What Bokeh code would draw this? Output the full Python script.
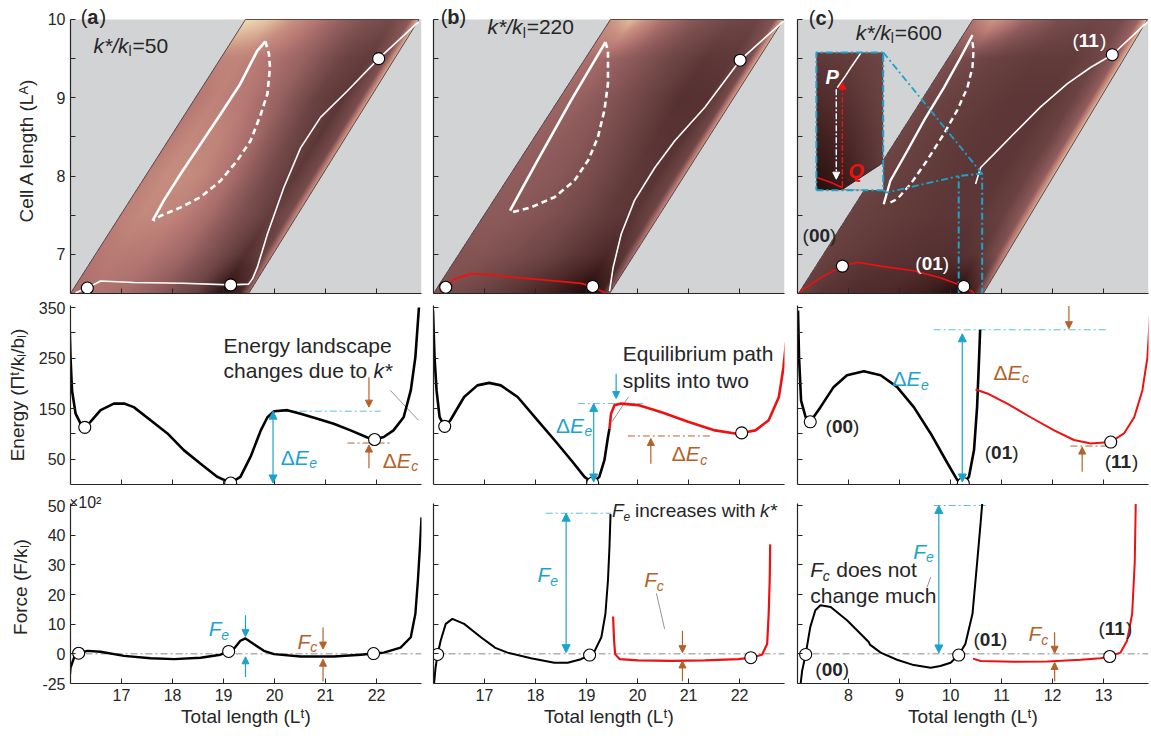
import numpy as np
from bokeh.plotting import figure
from bokeh.layouts import row, column
from bokeh.models import Range1d, FixedTicker, Label, Arrow, NormalHead
from bokeh.embed import file_html
from bokeh.resources import INLINE

FONT = "Liberation Sans"
INK = "#262626"
CYAN = "#1ca3cd"
CYAN_L = "#5cc0dd"
ORANGE = "#b5622a"
RED = "#ee1111"
GRAYBG = "#d1d3d4"
LEAD = "#777777"
FW = 351

# ---------------- axes ----------------
XR_AB = (16.0, 22.88)
XR_C = (7.0, 13.88)
XT_AB = [17, 18, 19, 20, 21, 22]
XT_C = [8, 9, 10, 11, 12, 13]
YR_TOP = (6.5, 10.166)
YB_TOP = (6.5, 10.0)
YT_TOP = [7, 8, 9, 10]
YT_TOP_MINOR = [7.5, 8.5, 9.5]
YR_E = (0.0, 354.0)
YT_E = [50, 150, 250, 350]
YT_E_MINOR = [100, 200, 300]
YR_F = (-10.0, 55.06)
YB_F = (-10.0, 50.6)
YT_F = [-10, 0, 10, 20, 30, 40, 50]
YT_F_LABELS = {-10: "-25"}

# ---------------- top row: landscape shading (0 dark .. 1 light) ----------------
LA_GRID = [6.5, 7.0, 7.5, 8.0, 8.5, 9.0, 9.5, 10.0]
U_GRID = [0.0, 0.12, 0.3, 0.5, 0.7, 0.85, 0.95, 1.0]
SHADE_A = [
    [0.55, 0.58, 0.55, 0.45, 0.30, 0.05, 0.15, 0.50],
    [0.60, 0.62, 0.60, 0.52, 0.36, 0.22, 0.30, 0.65],
    [0.64, 0.68, 0.66, 0.55, 0.38, 0.28, 0.36, 0.72],
    [0.64, 0.70, 0.68, 0.55, 0.36, 0.26, 0.36, 0.75],
    [0.62, 0.68, 0.65, 0.52, 0.33, 0.25, 0.36, 0.78],
    [0.60, 0.65, 0.60, 0.48, 0.30, 0.25, 0.38, 0.80],
    [0.66, 0.66, 0.58, 0.48, 0.32, 0.27, 0.40, 0.82],
    [0.95, 0.88, 0.70, 0.52, 0.40, 0.35, 0.45, 0.85],
]
SHADE_B = [
    [0.40, 0.36, 0.30, 0.22, 0.12, 0.02, 0.10, 0.42],
    [0.42, 0.42, 0.38, 0.32, 0.24, 0.18, 0.26, 0.58],
    [0.45, 0.45, 0.42, 0.36, 0.27, 0.24, 0.32, 0.68],
    [0.47, 0.46, 0.43, 0.36, 0.26, 0.24, 0.33, 0.72],
    [0.49, 0.47, 0.43, 0.34, 0.24, 0.23, 0.33, 0.75],
    [0.52, 0.49, 0.42, 0.32, 0.22, 0.23, 0.35, 0.78],
    [0.57, 0.52, 0.44, 0.33, 0.25, 0.26, 0.38, 0.82],
    [0.72, 0.85, 0.58, 0.42, 0.34, 0.32, 0.42, 0.85],
]
SHADE_C = [
    [0.30, 0.24, 0.20, 0.18, 0.12, 0.02, 0.16, 0.48],
    [0.30, 0.28, 0.25, 0.23, 0.21, 0.25, 0.38, 0.72],
    [0.31, 0.29, 0.27, 0.25, 0.25, 0.30, 0.45, 0.80],
    [0.32, 0.30, 0.27, 0.25, 0.25, 0.31, 0.47, 0.84],
    [0.33, 0.30, 0.27, 0.25, 0.25, 0.31, 0.47, 0.85],
    [0.35, 0.31, 0.28, 0.25, 0.25, 0.31, 0.47, 0.85],
    [0.40, 0.35, 0.30, 0.27, 0.27, 0.33, 0.48, 0.85],
    [0.58, 0.75, 0.52, 0.38, 0.33, 0.36, 0.50, 0.88],
]
# domain corners: bottom-left, top-left, top-right, bottom-right
DOM_A = [(16.0, 6.5), (19.43, 10.0), (22.83, 10.0), (19.49, 6.5)]
DOM_B = [(16.0, 6.5), (19.47, 10.0), (22.86, 10.0), (19.45, 6.5)]
DOM_C = [(7.02, 6.5), (10.44, 10.0), (13.86, 10.0), (10.64, 6.5)]
# inset of panel (c)
INSET_X = (7.37, 8.68)
INSET_Y = (7.82, 9.58)
INSET_V = [7.82, 9.58]
INSET_U = [0.0, 0.5, 1.0]
SHADE_INSET = [[0.04, 0.12, 0.27], [0.27, 0.29, 0.33]]

CMAP_S = [0.0, 0.15, 0.30, 0.45, 0.60, 0.72, 0.85, 1.0]
CMAP_R = [25, 70, 105, 140, 182, 202, 226, 246]
CMAP_G = [8, 35, 65, 90, 120, 146, 190, 240]
CMAP_B = [8, 35, 65, 90, 115, 130, 160, 196]

# ---------------- top row: paths ----------------
A_PATH_X = [16.10, 16.33, 16.59, 17.24, 18.20, 19.14, 19.49, 19.57, 19.67, 19.86, 20.18, 20.51, 20.90, 21.43, 22.04, 22.82]
A_PATH_Y = [6.51, 6.57, 6.66, 6.64, 6.63, 6.61, 6.62, 6.69, 6.85, 7.26, 7.85, 8.36, 8.75, 9.09, 9.50, 9.97]
A_LOOP_SX = [17.61, 17.83, 18.16, 18.55, 18.94, 19.33, 19.66, 19.82]
A_LOOP_SY = [7.43, 7.69, 8.03, 8.41, 8.79, 9.18, 9.60, 9.72]
A_LOOP_DX = [19.82, 19.89, 19.91, 19.86, 19.73, 19.53, 19.27, 18.94, 18.55, 18.16, 17.76, 17.63]
A_LOOP_DY = [9.72, 9.56, 9.39, 9.05, 8.79, 8.45, 8.20, 7.94, 7.73, 7.60, 7.49, 7.43]
A_TOP_MX = [16.33, 19.14, 22.04]
A_TOP_MY = [6.57, 6.61, 9.50]

B_RED_X = [16.10, 16.24, 16.40, 16.73, 17.06, 17.71, 18.37, 18.89, 19.12, 19.42]
B_RED_Y = [6.49, 6.58, 6.68, 6.75, 6.74, 6.70, 6.66, 6.63, 6.59, 6.49]
B_PATH_X = [19.45, 19.52, 19.68, 19.94, 20.34, 20.73, 21.32, 22.01, 22.86]
B_PATH_Y = [6.53, 6.83, 7.26, 7.69, 8.11, 8.45, 8.88, 9.48, 9.98]
B_LOOP_SX = [17.50, 18.04, 18.70, 19.37]
B_LOOP_SY = [7.56, 8.20, 8.97, 9.71]
B_LOOP_DX = [19.37, 19.42, 19.42, 19.35, 19.22, 19.03, 18.76, 18.37, 17.91, 17.55]
B_LOOP_DY = [9.71, 9.60, 9.18, 8.84, 8.49, 8.20, 7.94, 7.73, 7.60, 7.54]
B_TOP_MX = [16.24, 19.12, 22.01]
B_TOP_MY = [6.58, 6.59, 9.48]

C_RED_X = [7.03, 7.45, 7.88, 8.17, 8.63, 9.28, 9.80, 10.26, 10.46]
C_RED_Y = [6.51, 6.70, 6.85, 6.90, 6.85, 6.79, 6.70, 6.59, 6.51]
C_PATH_X = [10.49, 10.59, 10.85, 11.24, 11.76, 12.29, 12.75, 13.17, 13.86]
C_PATH_Y = [7.90, 8.11, 8.28, 8.54, 8.88, 9.18, 9.39, 9.55, 9.97]
C_LOOP_SX = [8.69, 8.82, 9.15, 9.48, 9.87, 10.20, 10.43]
C_LOOP_SY = [7.64, 7.94, 8.32, 8.71, 9.13, 9.52, 9.80]
C_LOOP_DX = [10.43, 10.45, 10.43, 10.33, 10.13, 9.87, 9.54, 9.22, 8.96, 8.76]
C_LOOP_DY = [9.71, 9.60, 9.39, 9.13, 8.84, 8.54, 8.20, 7.90, 7.71, 7.64]
C_TOP_MX = [7.88, 10.26, 13.17]
C_TOP_MY = [6.85, 6.59, 9.55]
INSET_WHITE_X = [8.24, 8.07, 7.94, 7.78]
INSET_WHITE_Y = [9.57, 9.41, 9.28, 9.13]
INSET_RED_X = [7.39, 7.65, 7.88]
INSET_RED_Y = [7.98, 7.92, 7.85]
INSET_GRAY_X = [7.88, 8.63, 8.68, 8.68]
INSET_GRAY_Y = [7.83, 8.15, 8.15, 7.82]
ZOOMBOX_X = [10.16, 10.16, 10.62, 10.62]
ZOOMBOX_Y = [6.50, 8.00, 8.03, 6.50]

# ---------------- middle row: energy ----------------
EA_X = [15.98, 16.00, 16.03, 16.10, 16.20, 16.28, 16.39, 16.59, 16.85, 17.05, 17.24, 17.57, 17.90, 18.22, 18.55, 18.88, 19.14,
        19.33, 19.53, 19.73, 19.86, 19.99, 20.25, 20.51, 20.84, 21.16, 21.49, 21.82, 21.96, 22.14, 22.33, 22.53, 22.67, 22.76, 22.83]
EA_Y = [324, 252, 186, 140, 120, 113, 124, 147, 160, 160, 153, 127, 101, 68, 41, 15, 3,
        15, 55, 107, 133, 145, 147, 140, 130, 120, 107, 93, 89, 94, 107, 133, 186, 252, 350]
EA_MX = [16.28, 19.14, 21.96]
EA_MY = [113, 3, 89]

EB_X = [15.99, 16.02, 16.06, 16.12, 16.22, 16.33, 16.60, 16.86, 17.09, 17.32, 17.65, 18.04, 18.37, 18.70, 18.96, 19.12,
        19.25, 19.35, 19.42, 19.45]
EB_Y = [344, 252, 186, 133, 115, 127, 173, 196, 201, 196, 173, 127, 88, 48, 15, 3,
        15, 48, 94, 111]
EB_RX = [19.45, 19.48, 19.55, 19.68, 20.01, 20.47, 20.99, 21.52, 21.91, 22.04, 22.31, 22.57, 22.77, 22.86, 22.91]
EB_RY = [111, 140, 157, 160, 157, 143, 124, 107, 101, 102, 107, 127, 173, 232, 281]
EB_MX = [16.22, 19.12, 22.04]
EB_MY = [115, 3, 102]

EC_X = [7.01, 7.03, 7.07, 7.16, 7.25, 7.45, 7.71, 7.97, 8.30, 8.63, 8.95, 9.28, 9.61, 9.94, 10.13, 10.25,
        10.36, 10.46, 10.52, 10.56, 10.58]
EC_Y = [344, 252, 166, 133, 124, 153, 193, 216, 224, 216, 193, 153, 101, 42, 9, 2,
        15, 68, 153, 252, 306]
EC_RX = [10.49, 10.72, 11.11, 11.57, 12.03, 12.42, 12.75, 13.14, 13.40, 13.60, 13.76, 13.86, 13.91]
EC_RY = [188, 180, 160, 133, 107, 88, 81, 84, 101, 133, 186, 252, 338]
EC_MX = [7.25, 10.25, 13.14]
EC_MY = [124, 2, 84]

# ---------------- bottom row: force (display units, 1 unit = 100 above zero) ----------------
FA_X = [15.97, 16.00, 16.07, 16.16, 16.33, 16.59, 17.05, 17.57, 18.03, 18.55, 18.94, 19.10, 19.20, 19.33, 19.43, 19.59,
        19.79, 19.99, 20.51, 21.16, 21.69, 21.94, 22.14, 22.47, 22.67, 22.76, 22.81, 22.85, 22.88]
FA_Y = [-10.3, -4.7, -1.3, 0.2, 1.0, 0.7, -0.7, -1.5, -1.8, -1.3, -0.3, 0.8, 1.6, 4.4, 5.2, 3.3,
        1.0, -0.1, -0.9, -0.9, -0.3, 0.1, 0.4, 2.1, 5.6, 13.5, 24.9, 36.3, 46.0]
FA_MX = [16.16, 19.10, 21.94]
FA_MY = [0.2, 0.8, 0.1]

FB_X = [16.01, 16.04, 16.08, 16.14, 16.24, 16.37, 16.60, 16.93, 17.16, 17.20, 17.45, 17.91, 18.37, 18.63, 18.89, 19.06,
        19.16, 19.29, 19.37, 19.42, 19.45, 19.47]
FB_Y = [-10.3, -4.7, -0.2, 4.4, 10.1, 11.8, 10.1, 5.6, 2.7, 2.1, 0.4, -1.5, -3.0, -3.0, -1.8, -0.4,
        1.0, 5.6, 13.5, 24.9, 36.3, 47.1]
FB_RX = [19.52, 19.54, 19.56, 19.65, 20.01, 20.67, 21.32, 21.98, 22.22, 22.44, 22.54, 22.57, 22.59, 22.60]
FB_RY = [12.6, 4.4, -0.1, -1.8, -2.2, -2.4, -2.2, -1.8, -1.3, -0.3, 3.3, 13.5, 24.9, 36.9]
FB_MX = [16.08, 19.06, 22.22]
FB_MY = [-0.2, -0.4, -1.3]

FC_X = [7.06, 7.09, 7.16, 7.25, 7.35, 7.45, 7.65, 7.97, 8.24, 8.40, 8.42, 8.63, 8.95, 9.28, 9.61, 9.80, 10.00,
        10.16, 10.29, 10.43, 10.52, 10.59, 10.62]
FC_Y = [-10.3, -5.8, -0.2, 9.0, 14.7, 16.4, 15.8, 11.3, 6.7, 3.9, 3.1, 0.4, -2.0, -3.8, -4.7, -4.1, -3.0,
        -0.4, 3.3, 13.5, 30.6, 44.3, 50.5]
FC_RX = [10.44, 10.59, 11.24, 11.90, 12.55, 12.94, 13.12, 13.33, 13.46, 13.56, 13.61, 13.63]
FC_RY = [-1.6, -2.4, -2.7, -2.6, -2.0, -1.5, -0.9, 0.4, 4.4, 13.5, 30.6, 50.5]
FC_MX = [7.16, 10.16, 13.12]
FC_MY = [-0.2, -0.4, -0.9]


# ---------------- helpers ----------------
def shade_rgba(dom, xr, yr, vgrid, ugrid, shade, nx, ny):
    (blx, bly), (tlx, tly), (trx, tr_y), (brx, bry) = dom
    xs = xr[0] + (np.arange(nx) + 0.5) * (xr[1] - xr[0]) / nx
    ys = yr[0] + (np.arange(ny) + 0.5) * (yr[1] - yr[0]) / ny
    X, Y = np.meshgrid(xs, ys)
    t = (Y - bly) / (tly - bly)
    xl = blx + (tlx - blx) * t
    xrr = brx + (trx - brx) * t
    U = (X - xl) / (xrr - xl)
    inside = (U >= 0) & (U <= 1) & (t >= 0) & (t <= 1)
    Uc = np.clip(U, 0, 1)
    sh = np.array(shade, dtype=float)
    rows = np.stack([np.interp(Uc, ugrid, sh[j]) for j in range(len(vgrid))])
    fi = np.interp(Y, vgrid, np.arange(len(vgrid)))
    i0 = np.clip(np.floor(fi).astype(int), 0, len(vgrid) - 2)
    w = fi - i0
    r0 = np.take_along_axis(rows, i0[None], 0)[0]
    r1 = np.take_along_axis(rows, (i0 + 1)[None], 0)[0]
    S = r0 * (1 - w) + r1 * w
    img = np.zeros((ny, nx), dtype=np.uint32)
    v = img.view(dtype=np.uint8).reshape((ny, nx, 4))
    v[..., 0] = np.interp(S, CMAP_S, CMAP_R).astype(np.uint8)
    v[..., 1] = np.interp(S, CMAP_S, CMAP_G).astype(np.uint8)
    v[..., 2] = np.interp(S, CMAP_S, CMAP_B).astype(np.uint8)
    v[..., 3] = np.where(inside, 255, 0).astype(np.uint8)
    return img


def base_fig(xr, yr, left, right, top, bottom, frame_h):
    p = figure(width=left + FW + right, height=top + frame_h + bottom,
               x_range=Range1d(*xr), y_range=Range1d(*yr),
               output_backend="svg", toolbar_location=None,
               min_border_left=left, min_border_right=right,
               min_border_top=top, min_border_bottom=bottom)
    p.outline_line_color = None
    p.xgrid.visible = False
    p.ygrid.visible = False
    p.background_fill_color = "white"
    p.border_fill_color = "white"
    for ax in (p.xaxis[0], p.yaxis[0]):
        ax.axis_line_color = INK
        ax.axis_line_width = 1.2
        ax.major_tick_line_color = INK
        ax.minor_tick_line_color = INK
        ax.major_tick_in = 5
        ax.major_tick_out = 0
        ax.minor_tick_in = 5
        ax.minor_tick_out = 0
        ax.major_label_text_font = FONT
        ax.major_label_text_font_size = "16px"
        ax.major_label_text_color = INK
        ax.axis_label_text_font = FONT
        ax.axis_label_text_font_size = "19px"
        ax.axis_label_text_font_style = "normal"
        ax.axis_label_text_color = INK
    return p


def set_ticks(ax, major, minor=(), labels=True):
    if labels:
        ax.ticker = FixedTicker(ticks=list(major), minor_ticks=list(minor))
    else:
        ax.ticker = FixedTicker(ticks=[], minor_ticks=sorted(list(major) + list(minor)))
        ax.major_label_standoff = 0


def lab(p, x, y, text, size=20, color=INK, style="normal", dx=0, dy=0, align="left"):
    p.add_layout(Label(x=x, y=y, text=text, x_offset=dx, y_offset=dy, text_font=FONT,
                       text_font_size=f"{size}px", text_font_style=style, text_color=color,
                       text_align=align, text_baseline="middle"))


def delta_e(p, x, y, sub, color, size=21):
    lab(p, x, y, "\u0394", size, color)
    lab(p, x, y, "E", size, color, "italic", dx=0.668 * size)
    lab(p, x, y, sub, round(size * 0.65), color, "italic", dx=1.36 * size, dy=-6)


def f_sym(p, x, y, sub, color, size=21):
    lab(p, x, y, "F", size, color, "italic")
    lab(p, x, y, sub, round(size * 0.65), color, "italic", dx=0.6 * size, dy=-6)


def k_ratio(p, x, y, val, size=21):
    lab(p, x, y, "k*/k", size, INK, "italic")
    lab(p, x, y, "l", round(size * 0.65), INK, "normal", dx=1.67 * size, dy=-6)
    lab(p, x, y, "=" + val, size, INK, "normal", dx=1.67 * size + 4)


def state(p, x, y, digits, size=19, color=INK):
    lab(p, x, y, "(", size, color)
    lab(p, x, y, digits, size, color, "bold", dx=0.333 * size)
    lab(p, x, y, ")", size, color, dx=0.333 * size + 1.112 * size)


def panel_tag(p, x, y, letter, size=20):
    lab(p, x, y, "(", size, INK)
    lab(p, x, y, letter, size, INK, "bold", dx=0.333 * size)
    lab(p, x, y, ")", size, INK, dx=0.333 * size + 0.61 * size)


def arrow(p, x0, y0, x1, y1, color, both=False, size=8, width=1.2, dash="solid"):
    head = dict(size=size, fill_color=color, line_color=color, line_width=1)
    p.add_layout(Arrow(x_start=x0, y_start=y0, x_end=x1, y_end=y1, line_color=color,
                       line_width=width, line_dash=dash, end=NormalHead(**head),
                       start=NormalHead(**head) if both else None))


def hdash(p, x0, x1, y, color, width=1.0):
    p.line([x0, x1], [y, y], line_color=color, line_width=width, line_dash="7 3 2 3")


def markers(p, xs, ys, size=12):
    p.scatter(xs, ys, size=size, fill_color="white", line_color="black", line_width=1.1)


# ---------------- layout sizes ----------------
LEFTS = [70, 6, 7]
RIGHTS = [6, 6, 2]
XRS = [XR_AB, XR_AB, XR_C]
XTS = [XT_AB, XT_AB, XT_C]

# ---------------- top row ----------------
tops = []
for i, (dom, shade) in enumerate([(DOM_A, SHADE_A), (DOM_B, SHADE_B), (DOM_C, SHADE_C)]):
    p = base_fig(XRS[i], YR_TOP, LEFTS[i], RIGHTS[i], 6, 6, 287)
    p.quad(left=XRS[i][0], right=XRS[i][1], bottom=YB_TOP[0], top=YB_TOP[1], fill_color=GRAYBG, line_color=None)
    img = shade_rgba(dom, XRS[i], YB_TOP, LA_GRID, U_GRID, shade, FW, 274)
    p.image_rgba(image=[img], x=XRS[i][0], y=YB_TOP[0], dw=XRS[i][1] - XRS[i][0], dh=YB_TOP[1] - YB_TOP[0])
    p.patch([c[0] for c in dom], [c[1] for c in dom], fill_color=None, line_color="#3a2a2a", line_width=0.8)
    set_ticks(p.xaxis[0], XTS[i], labels=False)
    p.yaxis.bounds = YB_TOP
    if i == 0:
        set_ticks(p.yaxis[0], YT_TOP, YT_TOP_MINOR)
        p.yaxis.axis_label = "Cell A length (L\u1d2c)"
        p.yaxis.axis_label_standoff = 8
    else:
        set_ticks(p.yaxis[0], YT_TOP, YT_TOP_MINOR, labels=False)
    tops.append(p)

pa, pb, pc = tops
# (a)
pa.line(A_PATH_X, A_PATH_Y, line_color="white", line_width=1.6)
pa.line(A_LOOP_SX, A_LOOP_SY, line_color="white", line_width=2.6)
pa.line(A_LOOP_DX, A_LOOP_DY, line_color="white", line_width=2.6, line_dash="6 4")
markers(pa, A_TOP_MX, A_TOP_MY)
panel_tag(pa, 16.2, 10.026, "a")
k_ratio(pa, 16.45, 9.67, "50")
# (b)
pb.line(B_RED_X, B_RED_Y, line_color=RED, line_width=1.8)
pb.line(B_PATH_X, B_PATH_Y, line_color="white", line_width=1.6)
pb.line(B_LOOP_SX, B_LOOP_SY, line_color="white", line_width=2.6)
pb.line(B_LOOP_DX, B_LOOP_DY, line_color="white", line_width=2.6, line_dash="6 4")
markers(pb, B_TOP_MX, B_TOP_MY)
panel_tag(pb, 16.14, 10.026, "b")
k_ratio(pb, 17.06, 9.91, "220")
# (c)
pc.line(C_RED_X, C_RED_Y, line_color=RED, line_width=1.6)
pc.line(C_PATH_X, C_PATH_Y, line_color="white", line_width=1.6)
pc.line(C_LOOP_SX, C_LOOP_SY, line_color="white", line_width=2.4)
pc.line(C_LOOP_DX, C_LOOP_DY, line_color="white", line_width=2.4, line_dash="6 4")
inset = shade_rgba([(INSET_X[0], INSET_Y[0]), (INSET_X[0], INSET_Y[1]), (INSET_X[1], INSET_Y[1]), (INSET_X[1], INSET_Y[0])],
                   INSET_X, INSET_Y, INSET_V, INSET_U, SHADE_INSET, 68, 90)
pc.image_rgba(image=[inset], x=INSET_X[0], y=INSET_Y[0], dw=INSET_X[1] - INSET_X[0], dh=INSET_Y[1] - INSET_Y[0])
pc.patch(INSET_GRAY_X, INSET_GRAY_Y, fill_color=GRAYBG, line_color=None)
pc.line(INSET_GRAY_X[:2], INSET_GRAY_Y[:2], line_color="#222222", line_width=1)
pc.line(INSET_RED_X, INSET_RED_Y, line_color=RED, line_width=1.6)
pc.line(INSET_WHITE_X, INSET_WHITE_Y, line_color="white", line_width=1.6)
arrow(pc, 7.76, 9.11, 7.76, 7.96, "white", size=7, width=1.4, dash="6 2 2 2")
arrow(pc, 7.88, 7.86, 7.88, 9.20, RED, size=7, width=1.4, dash="6 2 2 2")
lab(pc, 7.55, 9.27, "P", 20, "white", "bold italic")
lab(pc, 8.00, 8.07, "Q", 20, RED, "bold italic")
pc.line([INSET_X[0], INSET_X[1], INSET_X[1], INSET_X[0], INSET_X[0]],
        [INSET_Y[0], INSET_Y[0], INSET_Y[1], INSET_Y[1], INSET_Y[0]],
        line_color=CYAN, line_width=2, line_dash="7 3 2 3")
pc.line(ZOOMBOX_X, ZOOMBOX_Y, line_color=CYAN, line_width=2, line_dash="7 3 2 3")
pc.line([INSET_X[1], ZOOMBOX_X[3]], [INSET_Y[1], ZOOMBOX_Y[2]], line_color=CYAN, line_width=1.8, line_dash="7 3 2 3")
pc.line([INSET_X[1], 8.75, ZOOMBOX_X[0]], [INSET_Y[0], 7.79, ZOOMBOX_Y[1]], line_color=CYAN, line_width=1.8, line_dash="7 3 2 3")
markers(pc, C_TOP_MX, C_TOP_MY)
panel_tag(pc, 7.22, 10.02, "c")
k_ratio(pc, 8.14, 9.84, "600")
state(pc, 7.10, 7.24, "00")
state(pc, 9.31, 6.88, "01", color="white")
state(pc, 12.39, 9.73, "11", color="white")

# ---------------- middle row ----------------
mids = []
for i in range(3):
    p = base_fig(XRS[i], YR_E, LEFTS[i], RIGHTS[i], 6, 6, 179)
    set_ticks(p.xaxis[0], XTS[i], labels=False)
    if i == 0:
        set_ticks(p.yaxis[0], YT_E, YT_E_MINOR)
        p.yaxis.axis_label = "Energy (\u03a0\u1d57/k\u2097/b\u2097)"
        p.yaxis.axis_label_standoff = 8
    else:
        set_ticks(p.yaxis[0], YT_E, YT_E_MINOR, labels=False)
    mids.append(p)
ma, mb, mc = mids
# (a)
hdash(ma, 20.2, 22.08, 145, CYAN_L)
hdash(ma, 21.43, 22.31, 82, ORANGE)
ma.line([22.27, 22.82], [186, 127], line_color=LEAD, line_width=0.8)
ma.line(EA_X, EA_Y, line_color="black", line_width=2.6)
markers(ma, EA_MX, EA_MY)
arrow(ma, 19.97, 145, 19.97, 3, CYAN, both=True)
arrow(ma, 21.85, 212, 21.85, 153, ORANGE, size=7)
arrow(ma, 21.85, 32, 21.85, 78, ORANGE, size=7)
lab(ma, 19.0, 275, "Energy landscape", 21)
lab(ma, 19.0, 226, "changes due to", 21)
lab(ma, 19.0, 226, "k*", 21, style="italic", dx=150)
delta_e(ma, 20.12, 54, "e", CYAN)
delta_e(ma, 22.12, 48, "c", ORANGE)
# (b)
hdash(mb, 18.83, 20.11, 160, CYAN_L)
hdash(mb, 19.81, 21.45, 96, ORANGE)
mb.line([19.82, 19.50], [173, 124], line_color=LEAD, line_width=0.8)
mb.line(EB_X, EB_Y, line_color="black", line_width=2.6)
mb.line(EB_RX, EB_RY, line_color=RED, line_width=2.6)
markers(mb, EB_MX, EB_MY)
arrow(mb, 19.14, 160, 19.14, 5, CYAN, both=True)
arrow(mb, 19.58, 219, 19.58, 170, CYAN, size=7)
arrow(mb, 20.26, 41, 20.26, 91, ORANGE, size=7)
lab(mb, 19.71, 259, "Equilibrium path", 21)
lab(mb, 19.71, 206, "splits into two", 21)
delta_e(mb, 18.40, 117, "e", CYAN)
delta_e(mb, 20.67, 61, "c", ORANGE)
# (c)
hdash(mc, 9.67, 13.04, 306, CYAN_L)
hdash(mc, 12.35, 13.04, 76, ORANGE)
mc.line(EC_X, EC_Y, line_color="black", line_width=2.6)
mc.line(EC_RX, EC_RY, line_color=RED, line_width=2.0)
markers(mc, EC_MX, EC_MY)
arrow(mc, 10.23, 298, 10.23, 5, CYAN, both=True)
arrow(mc, 12.32, 353, 12.32, 308, ORANGE, size=7)
arrow(mc, 12.58, 25, 12.58, 74, ORANGE, size=7)
delta_e(mc, 8.86, 209, "e", CYAN)
delta_e(mc, 10.84, 222, "c", ORANGE)
state(mc, 7.55, 114, "00")
state(mc, 10.67, 64, "01")
state(mc, 13.02, 45, "11")

# ---------------- bottom row ----------------
bots = []
for i in range(3):
    p = base_fig(XRS[i], YR_F, LEFTS[i], RIGHTS[i], 0, 52, 193)
    set_ticks(p.xaxis[0], XTS[i])
    p.yaxis.bounds = YB_F
    p.xaxis.axis_label = "Total length (L\u1d57)"
    p.xaxis.major_label_standoff = 5
    p.xaxis.axis_label_standoff = 2
    if i == 0:
        set_ticks(p.yaxis[0], YT_F)
        p.yaxis.axis_label = "Force (F/k\u2097)"
        p.yaxis.axis_label_standoff = 8
        p.yaxis.major_label_overrides = YT_F_LABELS
    else:
        set_ticks(p.yaxis[0], YT_F, labels=False)
    p.line(list(XRS[i]), [0, 0], line_color="#8a8a8a", line_width=1, line_dash="7 3 2 3")
    bots.append(p)
fa, fb, fc = bots
# (a)
fa.line(FA_X, FA_Y, line_color="black", line_width=2.4)
markers(fa, FA_MX, FA_MY)
arrow(fa, 19.43, 13, 19.43, 5.8, CYAN, size=7)
arrow(fa, 19.43, -7.8, 19.43, -1, CYAN, size=7)
arrow(fa, 20.95, 8.9, 20.95, 1.6, ORANGE, size=7)
arrow(fa, 20.95, -9.2, 20.95, -1.8, ORANGE, size=7)
f_sym(fa, 18.71, 8.5, "e", CYAN)
f_sym(fa, 20.45, 4.2, "c", ORANGE)
lab(fa, 15.97, 51.1, "\u00d710\u00b2", 16)
# (b)
hdash(fb, 18.2, 19.48, 47.4, CYAN_L)
fb.line([20.37, 20.53], [20.4, 8.4], line_color=LEAD, line_width=0.8)
fb.line(FB_X, FB_Y, line_color="black", line_width=2.0)
fb.line(FB_RX, FB_RY, line_color=RED, line_width=2.2)
markers(fb, FB_MX, FB_MY)
arrow(fb, 18.6, 47.4, 18.6, 0.4, CYAN, both=True)
arrow(fb, 20.88, 7.8, 20.88, 0.4, ORANGE, size=7)
arrow(fb, 20.88, -9.2, 20.88, -2.4, ORANGE, size=7)
f_sym(fb, 18.04, 26.6, "e", CYAN)
f_sym(fb, 20.13, 25.0, "c", ORANGE)
f_sym(fb, 19.50, 48.3, "e", INK, size=19)
lab(fb, 19.50, 48.3, "increases with", 19, dx=23)
lab(fb, 19.50, 48.3, "k*", 19, style="italic", dx=148)
# (c)
hdash(fc, 9.67, 10.72, 50, CYAN_L)
fc.line([9.54, 9.61], [22.4, 25.9], line_color=LEAD, line_width=0.8)
fc.line(FC_X, FC_Y, line_color="black", line_width=2.0)
fc.line(FC_RX, FC_RY, line_color=RED, line_width=2.0)
markers(fc, FC_MX, FC_MY)
arrow(fc, 9.77, 50, 9.77, 0.3, CYAN, both=True)
arrow(fc, 12.04, 7.3, 12.04, 0.2, ORANGE, size=7)
arrow(fc, 12.04, -9.2, 12.04, -2.9, ORANGE, size=7)
f_sym(fc, 9.27, 34.6, "e", CYAN)
f_sym(fc, 11.53, 6.7, "c", ORANGE)
f_sym(fc, 7.25, 28.3, "c", INK)
lab(fc, 7.25, 28.3, "does not", 21, dx=26)
lab(fc, 7.25, 19.8, "change much", 21)
state(fc, 7.35, -5.2, "00")
state(fc, 10.45, 5.0, "01")
state(fc, 12.90, 8.4, "11")

layout = column(row(*tops), row(*mids), row(*bots))
open("out.html", "w").write(file_html(layout, INLINE))
